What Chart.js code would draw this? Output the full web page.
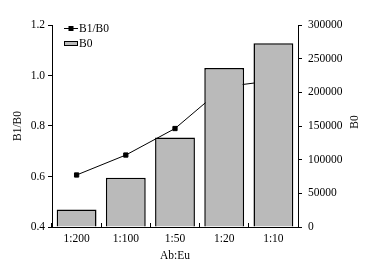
<!DOCTYPE html>
<html>
<head>
<meta charset="utf-8">
<script src="https://cdn.jsdelivr.net/npm/chart.js@4"></script>
<style>
  body { margin: 0; background: #fff; }
</style>
</head>
<body>
<canvas id="chart" width="373" height="263"></canvas>
<script>
// Data
const ratios = ['1:200', '1:100', '1:50', '1:20', '1:10'];
const b1b0 = [0.606, 0.685, 0.79, 0.955, 0.98];
const b0 = [26000, 73000, 133000, 236000, 273000];

const font = { family: '"Liberation Serif", "Times New Roman", serif', size: 11.5 };

// draws the small legend and the right axis title
const extras = {
    id: 'extras',
    afterDraw(chart) {
        const ctx = chart.ctx;
        ctx.save();
        ctx.font = '11.5px "Liberation Serif", serif';
        ctx.fillStyle = '#000';
        ctx.textBaseline = 'middle';
        ctx.textAlign = 'left';

        // B1/B0 entry
        ctx.strokeStyle = '#000';
        ctx.lineWidth = 1;
        ctx.beginPath();
        ctx.moveTo(64, 28.5);
        ctx.lineTo(78, 28.5);
        ctx.stroke();
        ctx.fillRect(68.5, 26, 5, 5);
        ctx.fillText('B1/B0', 79, 28.5);

        // B0 entry
        ctx.fillStyle = '#bababa';
        ctx.fillRect(64, 41, 14, 5);
        ctx.strokeRect(64.5, 41.5, 13, 4);
        ctx.fillStyle = '#000';
        ctx.fillText('B0', 79, 43.5);

        // right axis title, reading bottom to top
        ctx.translate(355, 122);
        ctx.rotate(-Math.PI / 2);
        ctx.textAlign = 'center';
        ctx.fillText('B0', 0, 0);
        ctx.restore();
    }
};

new Chart(document.getElementById('chart'), {
    data: {
        labels: ratios,
        datasets: [
            {
                type: 'line',
                label: 'B1/B0',
                data: b1b0,
                yAxisID: 'y',
                borderColor: '#000',
                borderWidth: 1,
                pointStyle: 'rect',
                pointRadius: 3,
                pointBackgroundColor: '#000',
                pointBorderColor: '#000',
                order: 2
            },
            {
                type: 'bar',
                label: 'B0',
                data: b0,
                yAxisID: 'y1',
                backgroundColor: '#bababa',
                borderColor: '#000',
                borderWidth: 1.5,
                categoryPercentage: 1,
                barPercentage: 0.81,
                order: 1
            }
        ]
    },
    options: {
        responsive: false,
        animation: false,
        layout: { padding: { top: 25, left: 0, right: 0, bottom: 0 } },
        plugins: {
            legend: { display: false },
            tooltip: { enabled: false }
        },
        scales: {
            x: {
                offset: true,
                border: { color: '#000', width: 1 },
                grid: { offset: true, drawOnChartArea: false, color: '#000', tickLength: -4 },
                ticks: { color: '#000', font: font, padding: 9 },
                title: { display: true, text: 'Ab:Eu', color: '#000', font: font, padding: { top: 0, bottom: 0 } },
                afterFit(scale) { scale.height = 36; }
            },
            y: {
                position: 'left',
                min: 0.4,
                max: 1.2,
                border: { color: '#000', width: 1 },
                grid: { drawOnChartArea: false, color: '#000', tickLength: 4 },
                ticks: { stepSize: 0.2, color: '#000', font: font, padding: 3,
                    callback: v => v.toFixed(1) },
                title: { display: true, text: 'B1/B0', color: '#000', font: font, padding: { top: 11, bottom: 0 } },
                afterFit(scale) { scale.width = 52; }
            },
            y1: {
                position: 'right',
                min: 0,
                max: 300000,
                border: { color: '#000', width: 1 },
                grid: { drawOnChartArea: false, color: '#000', tickLength: 4 },
                ticks: { stepSize: 50000, color: '#000', font: font, padding: 6,
                    callback: v => String(v) },
                afterFit(scale) { scale.width = 75; }
            }
        }
    },
    plugins: [extras]
});
</script>
</body>
</html>
